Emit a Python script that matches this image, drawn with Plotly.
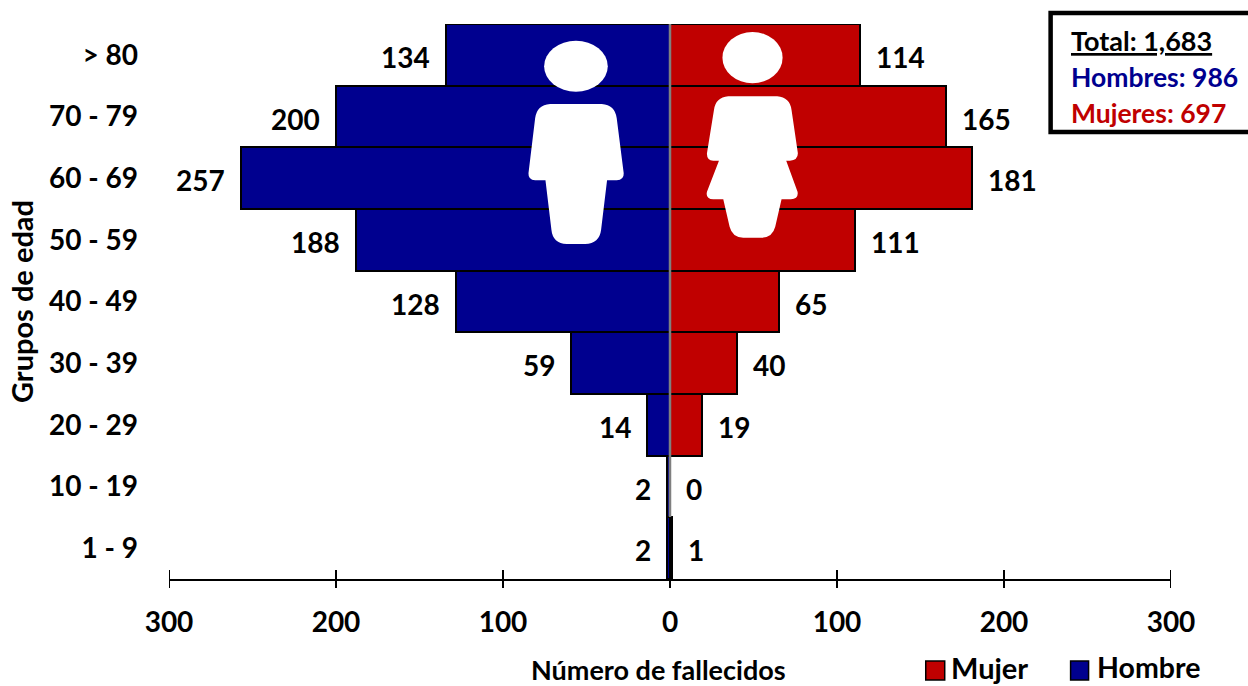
import plotly.graph_objects as go

age_groups = ["1 - 9", "10 - 19", "20 - 29", "30 - 39", "40 - 49", "50 - 59", "60 - 69", "70 - 79", "> 80"]
men = [2, 2, 14, 59, 128, 188, 257, 200, 134]
women = [1, 0, 19, 40, 65, 111, 181, 165, 114]
tick_vals = [-300, -200, -100, 0, 100, 200, 300]
tick_text = ["300", "200", "100", "0", "100", "200", "300"]

BLUE = "#00008F"
RED = "#C00000"
FONT = "Lato, Carlito, Calibri, sans-serif"
L, R, T, B = 168.5, 1171.5, 24.0, 579.0
W, H = 1248, 686


def px(x):
    return (x - L) / (R - L)


def py(y):
    return 1 - (y - T) / (B - T)


def figure_path(points):
    # points: drawing commands in pixels of the page, turned into paper fractions
    out = []
    for cmd, *c in points:
        vals = []
        for i in range(0, len(c), 2):
            vals.append(f"{px(c[i]):.5f},{py(c[i + 1]):.5f}")
        out.append(cmd + " ".join(vals))
    return " ".join(out) + " Z"


def crop(x, y):
    return 500 + x / 3, 20 + y / 3


def P(cmd, *c):
    r = [cmd]
    for i in range(0, len(c), 2):
        r.extend(crop(c[i], c[i + 1]))
    return r


man_body = [
    P("M", 150, 252), P("L", 305, 252), P("Q", 345, 255, 350, 295), P("L", 371, 460),
    P("Q", 372, 480, 350, 481), P("L", 321, 481), P("L", 303, 630), P("Q", 298, 670, 255, 672),
    P("L", 200, 672), P("Q", 158, 670, 154, 630), P("L", 136, 481), P("L", 105, 481),
    P("Q", 84, 480, 85, 460), P("L", 105, 295), P("Q", 110, 255, 150, 252),
]
woman_body = [
    P("M", 685, 229), P("L", 832, 229), P("Q", 870, 232, 875, 270), P("L", 894, 400),
    P("Q", 894, 421, 870, 422), P("L", 859, 422), P("L", 893, 515), P("Q", 897, 537, 873, 538),
    P("L", 845, 538), P("L", 826, 620), P("Q", 818, 652, 785, 653), P("L", 730, 653),
    P("Q", 697, 652, 689, 620), P("L", 670, 538), P("L", 640, 538), P("Q", 616, 537, 621, 515),
    P("L", 657, 422), P("L", 640, 422), P("Q", 620, 421, 621, 400), P("L", 642, 270),
    P("Q", 647, 232, 685, 229),
]

fig = go.Figure()
fig.add_trace(go.Bar(y=age_groups, x=women, name="Mujer", orientation="h",
                     marker=dict(color=RED, line=dict(color="black", width=2)),
                     hovertemplate="%{y}: %{x}<extra>Mujer</extra>"))
fig.add_trace(go.Bar(y=age_groups, x=[-v for v in men], name="Hombre", orientation="h",
                     customdata=men,
                     marker=dict(color=BLUE, line=dict(color="black", width=2)),
                     hovertemplate="%{y}: %{customdata}<extra>Hombre</extra>"))

shapes = [
    dict(type="line", xref="x", yref="paper", x0=0, x1=0, y0=py(517), y1=1, line=dict(color="#7F7F7F", width=2.5)),
    dict(type="path", xref="paper", yref="paper", path=figure_path(man_body), fillcolor="white", line=dict(width=0)),
    dict(type="path", xref="paper", yref="paper", path=figure_path(woman_body), fillcolor="white", line=dict(width=0)),
    dict(type="circle", xref="paper", yref="paper", x0=px(544), x1=px(607.7), y0=py(91.7), y1=py(40.7),
         fillcolor="white", line=dict(width=0)),
    dict(type="circle", xref="paper", yref="paper", x0=px(722.5), x1=px(782.7), y0=py(83.3), y1=py(32),
         fillcolor="white", line=dict(width=0)),
    dict(type="rect", xref="paper", yref="paper", x0=px(1051), x1=px(1260), y0=py(132), y1=py(13),
         fillcolor="white", line=dict(color="black", width=4.5)),
    dict(type="rect", xref="paper", yref="paper", x0=px(926), x1=px(945), y0=py(680), y1=py(661),
         fillcolor=RED, line=dict(color="black", width=1.5)),
    dict(type="rect", xref="paper", yref="paper", x0=px(1071), x1=px(1089), y0=py(680), y1=py(661),
         fillcolor=BLUE, line=dict(color="black", width=1.5)),
]
# Axis ticks cross the axis line, above and below it
for t in tick_vals:
    shapes.append(dict(type="line", xref="x", yref="paper", x0=t, x1=t, y0=py(588), y1=py(570),
                       line=dict(color="black", width=2)))

annotations = []
for cat, m, w in zip(age_groups, men, women):
    annotations.append(dict(x=-m, y=cat, xref="x", yref="y", text=f"<b>{m}</b>", showarrow=False,
                            xanchor="right", xshift=-14, yshift=-2, font=dict(size=28, color="black", family=FONT)))
    annotations.append(dict(x=w, y=cat, xref="x", yref="y", text=f"<b>{w}</b>", showarrow=False,
                            xanchor="left", xshift=14, yshift=-2, font=dict(size=28, color="black", family=FONT)))


def text(x, y, s, size, color="black", anchor="left"):
    annotations.append(dict(x=px(x), y=py(y), xref="paper", yref="paper", text=f"<b>{s}</b>", showarrow=False,
                            xanchor=anchor, yanchor="middle", font=dict(size=size, color=color, family=FONT)))


text(658, 669, "Número de fallecidos", 27, anchor="center")
text(949, 667, "Mujer", 29)
text(1095, 667, "Hombre", 28.5)
text(1069, 40, "<u>Total: 1,683</u>", 27)
text(1069, 77, "Hombres: 986", 26.5, BLUE)
text(1069, 113, "Mujeres: 697", 26.5, RED)

fig.update_layout(
    width=W, height=H, margin=dict(l=L, r=W - R, t=T, b=H - B, autoexpand=False),
    paper_bgcolor="white", plot_bgcolor="white", barmode="overlay", bargap=0, showlegend=False,
    font=dict(family=FONT, color="black"),
    xaxis=dict(range=[-300, 300], tickvals=tick_vals, ticktext=[f"<b>{t}</b>" for t in tick_text],
               ticks="", showline=True, linecolor="black",
               linewidth=2, showgrid=False, zeroline=False, tickfont=dict(size=28, color="black", family=FONT),
               ticklabelstandoff=17, fixedrange=True),
    yaxis=dict(type="category", categoryorder="array", categoryarray=age_groups, range=[-0.5, 8.5],
               tickvals=age_groups, ticktext=[f"<b>{a}</b>" for a in age_groups], ticks="", showline=False,
               showgrid=False, zeroline=False, ticklabelstandoff=30, tickfont=dict(size=28, color="black", family=FONT),
               title=dict(text="<b>Grupos de edad</b>", font=dict(size=29, color="black", family=FONT), standoff=6),
               fixedrange=True),
    shapes=shapes, annotations=annotations,
)
fig.write_html("out.html", config=dict(displayModeBar=False),
               post_script="document.body.style.margin='0';document.documentElement.style.overflow='hidden';")
